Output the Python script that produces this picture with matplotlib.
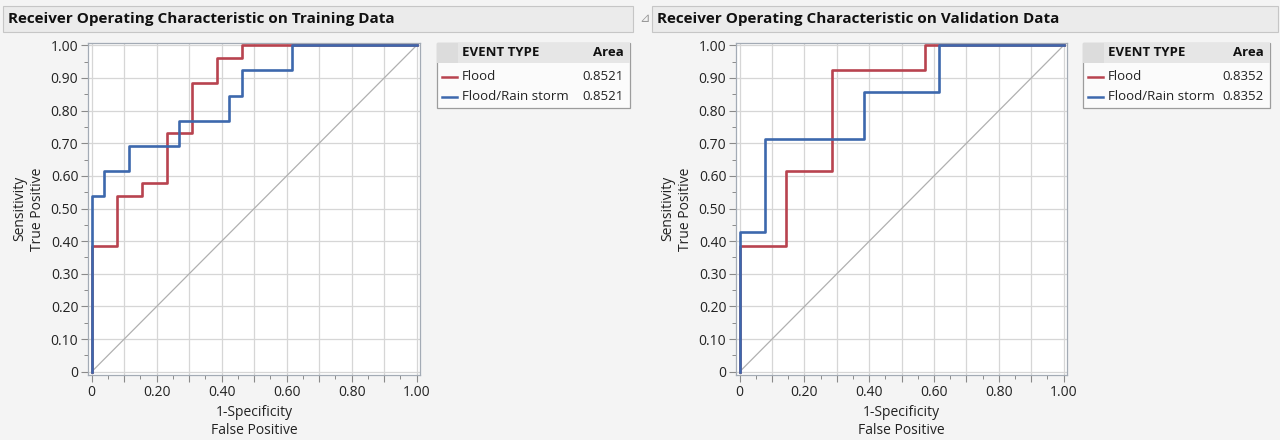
import matplotlib.pyplot as plt
from matplotlib.patches import Rectangle
from matplotlib.lines import Line2D

# ROC staircase corner points
train_flood_fpr = [0, 0, 0.077, 0.154, 0.231, 0.308, 0.385, 0.462, 1.0]
train_flood_tpr = [0, 0.385, 0.538, 0.577, 0.731, 0.885, 0.962, 1.0, 1.0]
train_rain_fpr = [0, 0, 0.038, 0.115, 0.269, 0.423, 0.462, 0.615, 1.0]
train_rain_tpr = [0, 0.538, 0.615, 0.692, 0.769, 0.846, 0.923, 1.0, 1.0]

valid_flood_fpr = [0, 0, 0.143, 0.286, 0.571, 1.0]
valid_flood_tpr = [0, 0.385, 0.615, 0.923, 1.0, 1.0]
valid_rain_fpr = [0, 0, 0.077, 0.385, 0.615, 1.0]
valid_rain_tpr = [0, 0.429, 0.714, 0.857, 1.0, 1.0]

event_types = ['Flood', 'Flood/Rain storm']
train_area = ['0.8521', '0.8521']
valid_area = ['0.8352', '0.8352']

titles = ['Receiver Operating Characteristic on Training Data',
          'Receiver Operating Characteristic on Validation Data']

RED = '#b8434f'
BLUE = '#3d68ad'
W, H = 1280, 440

plt.rcParams['font.family'] = ['Open Sans', 'DejaVu Sans']


def fx(x):
    return x / W


def fy(y):
    return 1 - y / H


def draw_panel(fig, left, right, fpr1, tpr1, fpr2, tpr2):
    ax = fig.add_axes([fx(left), fy(375), fx(right - left), (375 - 42.7) / H])
    ax.set_facecolor('white')
    ax.plot([0, 1], [0, 1], color='#b0b0b0', lw=0.9, zorder=2)
    ax.step(fpr1, tpr1, where='post', color=RED, lw=1.9, zorder=3)
    ax.step(fpr2, tpr2, where='post', color=BLUE, lw=1.9, zorder=4)
    ax.set_xlim(-0.0114, 1.0102)
    ax.set_ylim(-0.0101, 1.008)
    ticks = [i / 10 for i in range(11)]
    ax.set_xticks(ticks)
    ax.set_xticklabels(['0' if i == 0 else ('%.2f' % (i / 10) if i % 2 == 0 else '')
                        for i in range(11)])
    ax.set_yticks(ticks)
    ax.set_yticklabels(['0' if i == 0 else '%.2f' % (i / 10) for i in range(11)])
    ax.set_xticks([i / 20 for i in range(1, 20, 2)], minor=True)
    ax.set_yticks([i / 20 for i in range(1, 20, 2)], minor=True)
    ax.grid(True, which='major', color='#d6d6d6', lw=0.9, zorder=1)
    ax.tick_params(which='major', length=5, width=0.8, color='#8a8a8a',
                   labelsize=10, labelcolor='#222222', pad=2)
    ax.tick_params(which='minor', length=3, width=0.7, color='#8a8a8a')
    for s in ax.spines.values():
        s.set_color('#a3abb5')
        s.set_linewidth(0.9)
    ax.set_xlabel('1-Specificity\nFalse Positive', fontsize=10, color='#222222',
                  linespacing=1.25, labelpad=4)
    ax.set_ylabel('Sensitivity\nTrue Positive', fontsize=10, color='#222222',
                  linespacing=1.25, labelpad=4)
    return ax


def draw_title_bar(fig, x0, x1, text):
    fig.patches.append(Rectangle((fx(x0), fy(32)), fx(x1 - x0), (32 - 6) / H,
                                 transform=fig.transFigure, facecolor='#ebebeb',
                                 edgecolor='#c6c6c6', lw=0.8))
    fig.text(fx(x0 + 5), fy(19), text, fontsize=11, fontweight='bold',
             color='#111111', va='center', ha='left')


def draw_table(fig, x0, x1, areas):
    top, head, bottom = 42.7, 63.3, 108
    fig.patches.append(Rectangle((fx(x0), fy(bottom)), fx(x1 - x0), (bottom - top) / H,
                                 transform=fig.transFigure, facecolor='#fbfbfb',
                                 edgecolor='#9c9c9c', lw=0.9))
    fig.patches.append(Rectangle((fx(x0), fy(head)), fx(x1 - x0), (head - top) / H,
                                 transform=fig.transFigure, facecolor='#e6e6e6',
                                 edgecolor='none'))
    fig.patches.append(Rectangle((fx(x0), fy(head)), fx(21), (head - top) / H,
                                 transform=fig.transFigure, facecolor='#dcdcdc',
                                 edgecolor='none'))
    fig.text(fx(x0 + 25), fy(53), 'EVENT TYPE', fontsize=9.5, fontweight='bold',
             color='#111111', va='center', ha='left')
    fig.text(fx(x1 - 6), fy(53), 'Area', fontsize=9.5, fontweight='bold',
             color='#111111', va='center', ha='right')
    for i, (name, area, col) in enumerate(zip(event_types, areas, [RED, BLUE])):
        yy = 76.7 + 20 * i
        fig.lines.append(Line2D([fx(x0 + 5), fx(x0 + 20)], [fy(yy), fy(yy)],
                                transform=fig.transFigure, color=col, lw=1.8))
        fig.text(fx(x0 + 25), fy(yy), name, fontsize=9.5, color='#222222',
                 va='center', ha='left')
        fig.text(fx(x1 - 6), fy(yy), area, fontsize=9.5, color='#222222',
                 va='center', ha='right')


fig = plt.figure(figsize=(12.8, 4.4), dpi=100)
fig.patch.set_facecolor('#f4f4f4')

draw_title_bar(fig, 3, 633, titles[0])
draw_title_bar(fig, 652, 1278, titles[1])
fig.text(fx(645), fy(19), '\u22bf', fontsize=9, color='#999999',
         family=['DejaVu Sans'], va='center', ha='center')

draw_panel(fig, 88, 420, train_flood_fpr, train_flood_tpr, train_rain_fpr, train_rain_tpr)
draw_panel(fig, 736, 1067, valid_flood_fpr, valid_flood_tpr, valid_rain_fpr, valid_rain_tpr)

draw_table(fig, 437, 630, train_area)
draw_table(fig, 1083, 1270, valid_area)

plt.savefig('out.png', dpi=100, facecolor=fig.get_facecolor())
